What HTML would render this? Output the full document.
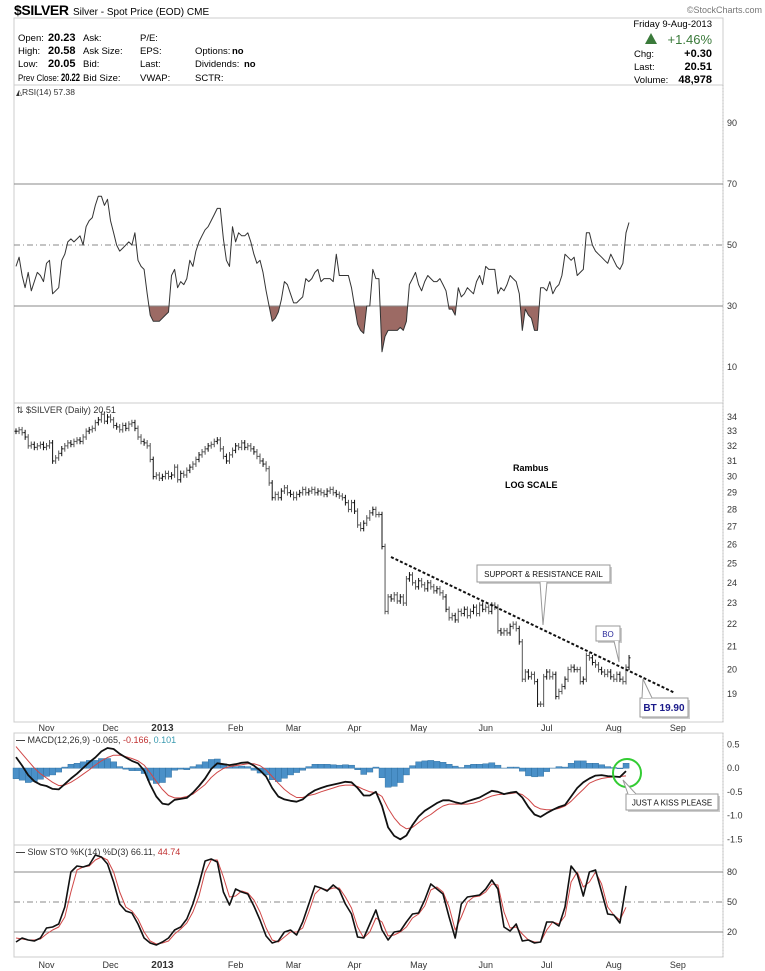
<!DOCTYPE html>
<html><head><meta charset="utf-8"><style>
body{margin:0;background:#fff;}
svg{display:block;font-family:"Liberation Sans",sans-serif;}
</style></head><body>
<svg id="c" width="765" height="971" viewBox="0 0 765 971">
<g>
<text x="14" y="15" font-size="14" font-weight="bold" textLength="55">$SILVER</text>
<text x="73" y="15" font-size="10">Silver - Spot Price (EOD) CME</text>
<text x="762" y="13" font-size="9" fill="#777" text-anchor="end">©StockCharts.com</text>
</g>
<g font-size="9.5">
<rect x="14" y="18" width="709" height="67" fill="none" stroke="#ccc"/>
<text x="18" y="41">Open:</text><text x="48" y="41" font-weight="bold" font-size="11">20.23</text>
<text x="18" y="54">High:</text><text x="48" y="54" font-weight="bold" font-size="11">20.58</text>
<text x="18" y="67">Low:</text><text x="48" y="67" font-weight="bold" font-size="11">20.05</text>
<text x="18" y="81" textLength="41" lengthAdjust="spacingAndGlyphs">Prev Close:</text><text x="61" y="81" font-weight="bold" font-size="11" textLength="19" lengthAdjust="spacingAndGlyphs">20.22</text>
<text x="83" y="41">Ask:</text><text x="83" y="54">Ask Size:</text><text x="83" y="67">Bid:</text><text x="83" y="81">Bid Size:</text>
<text x="140" y="41">P/E:</text><text x="140" y="54">EPS:</text><text x="140" y="67">Last:</text><text x="140" y="81">VWAP:</text>
<text x="195" y="54">Options:</text><text x="232" y="54" font-weight="bold">no</text>
<text x="195" y="67">Dividends:</text><text x="244" y="67" font-weight="bold">no</text>
<text x="195" y="81">SCTR:</text>
<text x="712" y="27" text-anchor="end">Friday  9-Aug-2013</text>
<path d="M645 44 L651 33 L657 44 Z" fill="#3a7a3a"/>
<text x="712" y="44" text-anchor="end" font-size="13" fill="#3a7a3a">+1.46%</text>
<text x="634" y="57">Chg:</text><text x="712" y="57" text-anchor="end" font-weight="bold" font-size="11">+0.30</text>
<text x="634" y="70">Last:</text><text x="712" y="70" text-anchor="end" font-weight="bold" font-size="11">20.51</text>
<text x="634" y="83">Volume:</text><text x="712" y="83" text-anchor="end" font-weight="bold" font-size="11">48,978</text>
</g>
<g id="plot"></g>
</svg>
<script>
const closes=[33.0,33.1,32.9,32.6,32.0,32.1,31.9,32.0,32.1,31.9,
32.0,32.2,31.0,31.2,31.5,31.8,32.0,32.2,32.1,32.3,
32.4,32.3,32.6,33.0,33.1,33.2,33.6,33.8,34.2,33.7,
34.0,33.8,33.4,33.3,33.1,33.4,33.2,33.5,33.6,33.2,
32.6,32.3,32.2,32.0,31.1,30.0,30.1,29.9,30.0,30.2,
30.0,30.1,30.6,29.8,30.2,30.1,30.4,30.6,30.8,31.1,
31.4,31.6,31.8,32.0,32.1,32.3,32.4,31.8,31.3,31.0,
31.4,31.7,32.0,31.9,32.2,31.9,32.0,31.8,31.6,31.3,
31.0,30.8,30.5,29.6,28.7,28.9,28.7,29.1,29.3,29.0,
28.9,28.7,28.9,29.0,29.2,29.0,29.1,29.2,29.0,29.1,
29.0,28.9,29.1,29.2,29.0,28.9,28.8,28.7,28.4,28.0,
28.4,27.9,27.1,26.9,27.2,27.5,27.8,28.0,27.7,27.7,
25.9,22.6,23.3,23.2,23.4,23.1,23.3,23.0,24.2,24.4,
24.0,23.8,24.1,23.9,23.7,24.0,23.8,23.6,23.7,23.5,
23.3,22.7,22.3,22.4,22.2,22.6,22.5,22.7,22.4,22.6,
22.8,22.5,22.9,22.7,22.8,22.6,22.9,22.8,21.7,21.6,
21.7,21.6,21.9,22.0,21.8,21.2,19.6,19.9,19.7,19.8,
19.5,18.6,18.6,19.7,19.9,19.7,19.8,18.9,19.1,19.3,
19.6,20.0,20.1,20.0,20.0,19.5,19.6,20.6,20.5,20.3,
20.2,20.0,19.9,19.8,19.9,19.7,19.6,19.8,19.6,19.5,
20.1,20.5];
const rsi=[43,46,40,36,41,35,38,41,40,38,
44,45,34,35,36,45,47,51,52,51,
52,53,50,56,58,59,63,66,66,63,
65,58,54,50,48,49,50,51,50,54,
45,43,42,34,27,25,25,25,26,27,
28,40,42,36,38,37,39,45,43,48,
51,53,55,56,58,60,62,62,52,45,
43,56,51,54,53,53,54,51,47,44,
45,41,35,30,25,26,28,32,38,37,
34,31,31,32,33,39,38,39,41,42,
38,39,39,39,38,47,40,40,40,40,
36,30,24,22,21,30,30,42,39,39,
15,20,22,22,22,22,23,22,25,37,
39,41,37,35,38,40,39,38,38,39,
37,35,29,29,27,36,33,34,36,35,
34,38,40,37,43,42,42,42,34,36,
35,37,40,39,38,34,22,29,27,26,
22,22,36,36,35,38,34,36,37,40,
47,46,45,46,40,41,42,54,54,50,
48,47,46,45,44,47,45,43,42,44,
54,57.38];
// every 2 bars
const macdLine=[0.23,0.05,-0.15,-0.28,-0.35,-0.38,-0.44,-0.45,-0.34,-0.22,-0.12,0.0,0.12,0.22,0.35,0.42,0.4,0.3,0.22,0.15,0.1,-0.05,-0.35,-0.6,-0.75,-0.77,-0.67,-0.65,-0.63,-0.52,-0.38,-0.22,-0.02,0.1,0.08,0.06,0.08,0.11,0.12,0.05,-0.05,-0.18,-0.42,-0.6,-0.66,-0.69,-0.71,-0.66,-0.55,-0.47,-0.42,-0.38,-0.35,-0.32,-0.29,-0.3,-0.42,-0.58,-0.58,-0.5,-0.8,-1.25,-1.43,-1.5,-1.42,-1.2,-1.02,-0.9,-0.82,-0.74,-0.68,-0.68,-0.72,-0.75,-0.7,-0.66,-0.62,-0.55,-0.48,-0.5,-0.55,-0.52,-0.5,-0.62,-0.82,-0.98,-1.03,-0.95,-0.88,-0.82,-0.78,-0.6,-0.42,-0.3,-0.22,-0.16,-0.15,-0.17,-0.18,-0.19,-0.065];
const signalLine=[0.45,0.3,0.15,0.0,-0.12,-0.21,-0.3,-0.37,-0.36,-0.3,-0.22,-0.13,-0.04,0.06,0.15,0.22,0.27,0.27,0.24,0.2,0.15,0.06,-0.1,-0.28,-0.45,-0.58,-0.63,-0.63,-0.6,-0.55,-0.45,-0.35,-0.2,-0.09,-0.01,0.03,0.05,0.07,0.09,0.09,0.05,-0.04,-0.18,-0.32,-0.45,-0.55,-0.62,-0.62,-0.58,-0.55,-0.5,-0.46,-0.42,-0.38,-0.36,-0.36,-0.39,-0.45,-0.5,-0.52,-0.6,-0.85,-1.05,-1.2,-1.28,-1.25,-1.15,-1.05,-0.98,-0.88,-0.8,-0.76,-0.76,-0.76,-0.76,-0.74,-0.7,-0.64,-0.59,-0.56,-0.55,-0.54,-0.52,-0.56,-0.66,-0.8,-0.86,-0.88,-0.88,-0.85,-0.8,-0.7,-0.57,-0.45,-0.32,-0.26,-0.22,-0.2,-0.19,-0.18,-0.166];
const stoK=[10,14,12,11,14,24,25,28,45,80,86,85,87,97,95,88,70,48,41,39,28,14,9,7,10,14,22,25,33,48,68,91,93,90,60,47,63,60,58,46,32,16,9,11,20,22,17,30,48,66,64,61,67,62,48,38,15,14,28,42,22,12,20,21,30,38,39,52,68,63,58,35,14,48,55,56,57,63,72,63,25,21,28,11,12,9,10,30,30,26,45,86,78,56,80,82,60,38,37,29,66.11];
const stoD=[14,13,12,12,13,18,22,25,35,60,82,85,86,92,95,92,80,60,45,41,33,20,11,8,9,11,18,23,29,40,56,80,92,92,75,55,56,61,59,52,40,24,12,10,15,20,20,24,40,58,64,62,64,64,55,44,25,14,20,34,30,16,17,20,25,34,38,46,62,65,60,45,22,35,50,55,56,60,68,67,40,24,25,18,12,10,10,22,30,28,36,70,80,65,70,80,68,45,37,32,44.74];
const monthLabels=["Nov","Dec","2013","Feb","Mar","Apr","May","Jun","Jul","Aug","Sep"];
const monthIdx=[10,31,48,72,91,111,132,154,174,196,217];
const rsiTicks=[90,70,50,30,10];
const priceTicks=[34,33,32,31,30,29,28,27,26,25,24,23,22,21,20,19];
const macdTicks=[0.5,0.0,-0.5,-1.0,-1.5];
const stoTicks=[80,50,20];

const NS="http://www.w3.org/2000/svg";
const G=document.getElementById('plot');
function mk(tag,attrs,parent){const e=document.createElementNS(NS,tag);for(const k in attrs)e.setAttribute(k,attrs[k]);(parent||G).appendChild(e);return e;}
const X0=16,DX=3.05,RIGHT=723;
const xi=i=>X0+i*DX;
const yRsi=v=>367-(v-10)*3.05;
const yP=p=>417+(Math.log(34)-Math.log(p))*476;
const yM=v=>768-v*47.5;
const yS=v=>952-v;

function panel(top,bot,name){
  const r=mk('rect',{x:14,y:top,width:RIGHT-14,height:bot-top,fill:'none',stroke:'#ccc'});
  
  
  const l=mk('line',{x1:RIGHT,y1:top,x2:RIGHT,y2:bot,stroke:'#bbb','stroke-dasharray':'1,2'});
  
  
}
function axisLabel(txt,y,name){
  const t=mk('text',{x:727,y:y+3,'font-size':9,fill:'#333'});t.textContent=txt;
  
  
}
function hline(y,dash,name){
  const l=mk('line',{x1:14,y1:y,x2:RIGHT,y2:y,stroke:'#888','stroke-width':1,'stroke-dasharray':dash||'none'});
  
  
}
function label(x,y,txt,name,size,color,weight){
  const t=mk('text',{x:x,y:y,'font-size':size||9,fill:color||'#000','font-weight':weight||'normal'});t.textContent=txt;
  
  
  return t;
}
function poly(pts,color,w,name){
  const p=mk('polyline',{points:pts.map(q=>q[0].toFixed(1)+','+q[1].toFixed(1)).join(' '),fill:'none',stroke:color,'stroke-width':w,'stroke-linejoin':'round'});
  
  
}
function dateAxis(y,name){
  monthLabels.forEach((m,k)=>{
    const t=mk('text',{x:xi(monthIdx[k]),y:y,'font-size':m==="2013"?10:9,'font-weight':m==="2013"?'bold':'normal','text-anchor':'middle',fill:'#333'});
    t.textContent=m;
    
    
  });
}

// RSI
panel(85,403,'rsi-panel');
rsiTicks.forEach(v=>axisLabel(String(v),yRsi(v),'rsi-tick'));
const clip=mk('clipPath',{id:'below30'});mk('rect',{x:14,y:yRsi(30),width:710,height:403-yRsi(30)},clip);
const fp=[[xi(0),yRsi(30)]].concat(rsi.map((v,i)=>[xi(i),yRsi(v)])).concat([[xi(rsi.length-1),yRsi(30)]]);
const fill=mk('polygon',{points:fp.map(q=>q[0].toFixed(1)+','+q[1].toFixed(1)).join(' '),fill:'#9c6a64','clip-path':'url(#below30)'});


hline(yRsi(70),null,'rsi-70-line');hline(yRsi(30),null,'rsi-30-line');hline(yRsi(50),'6,3,1,3','rsi-50-line');
poly(rsi.map((v,i)=>[xi(i),yRsi(v)]),'#333',1,'rsi-line');
label(22,95,'RSI(14) 57.38','rsi-legend',8.5,'#333');
label(16,95,'◭','rsi-icon',8,'#333');

// price
panel(403,722,'price-panel');
priceTicks.forEach(v=>axisLabel(String(v),yP(v),'price-tick'));
closes.forEach((c,i)=>{
  const o=i>0?closes[i-1]:c;
  const h=Math.max(o,c)*1.006,l=Math.min(o,c)*0.994,x=xi(i);
  const g=mk('g',{stroke:i%3?'#555':'#111','stroke-width':1});
  
  
  mk('line',{x1:x,y1:yP(h),x2:x,y2:yP(l)},g);
  mk('line',{x1:x-1.5,y1:yP(o),x2:x,y2:yP(o)},g);
  mk('line',{x1:x,y1:yP(c),x2:x+1.5,y2:yP(c)},g);
});
label(16,413,'⇅ $SILVER (Daily) 20.51','price-legend',9,'#333');
label(513,471,'Rambus','annotation-rambus',9,'#000','bold');
label(505,488,'LOG SCALE','annotation-log-scale',9,'#000','bold');
const tl=mk('line',{x1:391,y1:557,x2:675,y2:693,stroke:'#111','stroke-width':2,'stroke-dasharray':'3,2'});


function callout(x,y,w,h,tip,txt,name,color,bold,size){
  const g=mk('g',{});
  
  
  mk('rect',{x:x+2,y:y+2,width:w,height:h,fill:'#ccc'},g);
  mk('rect',{x:x,y:y,width:w,height:h,fill:'#fff',stroke:'#999'},g);
  mk('polyline',{points:tip,fill:'#fff',stroke:'#999'},g);
  const t=mk('text',{x:x+w/2,y:y+h/2+3.5,'font-size':size||8,'text-anchor':'middle',fill:color,'font-weight':bold?'bold':'normal'},g);
  t.textContent=txt;
}
callout(477,565,133,17,'540,582 543,625 547,582','SUPPORT & RESISTANCE RAIL','callout-support-resistance','#111',false,8);
callout(596,626,24,15,'614,641 619,662 619,641','BO','callout-bo','#2a2a9a',false,8);
callout(640,698,48,19,'642,698 643,679 652,698','BT 19.90','callout-bt','#1a1a8a',true,10);
dateAxis(731,'price-date');

// MACD
panel(733,845,'macd-panel');
macdTicks.forEach(v=>axisLabel(v.toFixed(1),yM(v),'macd-tick'));
macdLine.forEach((m,j)=>{
  const h=m-signalLine[j];const y0=yM(0),y1=yM(h);
  const r=mk('rect',{x:xi(j*2)-3,y:Math.min(y0,y1),width:6.1,height:Math.abs(y1-y0)+0.3,fill:'#4a90c8',stroke:'#2a6a9a','stroke-width':0.4});
  
  
});
poly(signalLine.map((v,j)=>[xi(j*2),yM(v)]),'#d04848',1,'macd-signal-line');
poly(macdLine.map((v,j)=>[xi(j*2),yM(v)]),'#111',1.8,'macd-line');
const leg=label(16,743,'','macd-legend',9,'#333');
leg.innerHTML='<tspan font-weight="bold">—</tspan> MACD(12,26,9) -0.065, <tspan fill="#c03030">-0.166</tspan>, <tspan fill="#3a9ab0">0.101</tspan>';
const circ=mk('circle',{cx:627,cy:773,r:14,fill:'none',stroke:'#3c3','stroke-width':2});


callout(626,794,92,16,'628,794 623,780 636,794','JUST A KISS PLEASE','callout-kiss','#111',false,8);

// STO
panel(845,957,'sto-panel');
stoTicks.forEach(v=>axisLabel(String(v),yS(v),'sto-tick'));
hline(yS(80),null,'sto-80-line');hline(yS(20),null,'sto-20-line');hline(yS(50),'6,3,1,3','sto-50-line');
poly(stoD.map((v,j)=>[xi(j*2),yS(v)]),'#d04848',1,'sto-d-line');
poly(stoK.map((v,j)=>[xi(j*2),yS(v)]),'#111',1.6,'sto-k-line');
const sl=label(16,855,'','sto-legend',9,'#333');
sl.innerHTML='<tspan font-weight="bold">—</tspan> Slow STO %K(14) %D(3) 66.11, <tspan fill="#c03030">44.74</tspan>';
dateAxis(968,'sto-date');
</script>
</body></html>
